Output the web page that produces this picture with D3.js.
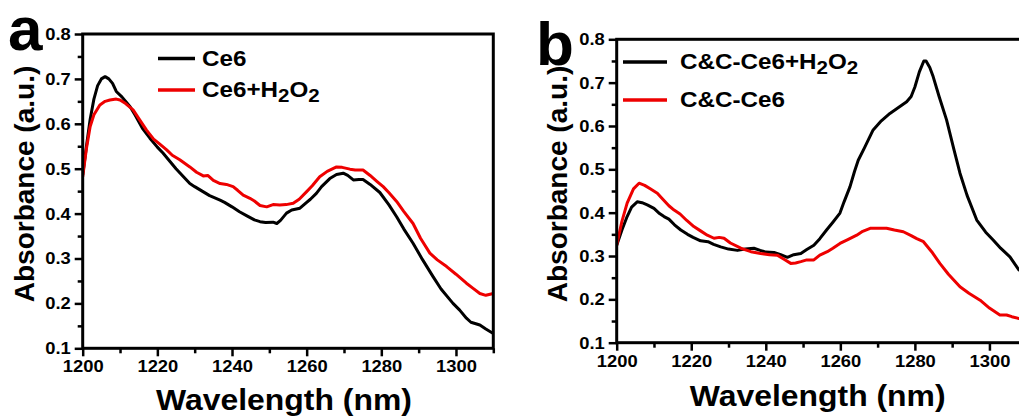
<!DOCTYPE html>
<html>
<head>
<meta charset="utf-8">
<script src="https://cdn.jsdelivr.net/npm/d3@7"></script>
<style>
  body { margin: 0; background: #fff; }
  svg { display: block; font-family: "Liberation Sans", Arial, sans-serif; font-weight: bold; }
</style>
</head>
<body>
<svg id="chart" width="1019" height="416"></svg>
<script>
// panel a: Ce6 with / without H2O2
const ce6 = [[1200,0.486],[1201,0.55],[1202,0.61],[1203,0.655],[1204,0.685],[1205,0.70],[1206,0.705],[1207,0.70],[1208,0.69],[1209,0.672],[1210.5,0.66],[1212.7,0.638],[1214,0.62],[1216,0.59],[1218,0.568],[1220,0.548],[1221.5,0.535],[1223,0.52],[1225,0.50],[1227,0.482],[1228.7,0.467],[1230,0.46],[1232,0.45],[1234,0.44],[1236.8,0.43],[1238,0.425],[1240,0.415],[1242,0.404],[1244,0.395],[1246,0.386],[1247.5,0.382],[1249,0.38],[1251,0.381],[1252,0.378],[1253,0.385],[1254.6,0.401],[1256,0.408],[1258.2,0.412],[1260,0.425],[1261,0.432],[1262.6,0.445],[1264,0.46],[1266.2,0.478],[1268,0.487],[1269.8,0.49],[1271,0.485],[1272.5,0.475],[1274,0.476],[1275.1,0.476],[1277,0.465],[1279.6,0.447],[1282,0.42],[1284.1,0.393],[1286,0.366],[1288.5,0.334],[1291,0.298],[1293.9,0.259],[1296,0.232],[1299.2,0.2],[1301,0.185],[1302.8,0.167],[1304,0.158],[1306.4,0.152],[1308,0.143],[1310,0.133]];
const ce6H2O2 = [[1200,0.482],[1201,0.545],[1202,0.594],[1203,0.62],[1204.6,0.642],[1206,0.65],[1207.3,0.653],[1209,0.655],[1210,0.653],[1211.5,0.645],[1213.5,0.631],[1215,0.612],[1217.1,0.586],[1219,0.566],[1220.5,0.556],[1222.5,0.542],[1224,0.53],[1226,0.52],[1228.7,0.504],[1230.5,0.492],[1232.3,0.484],[1233.5,0.485],[1235,0.474],[1236.8,0.467],[1238.5,0.465],[1240.3,0.46],[1241.5,0.452],[1243,0.441],[1244.8,0.434],[1246,0.428],[1247.5,0.418],[1249.3,0.415],[1251,0.42],[1252.8,0.419],[1254.5,0.42],[1256.4,0.423],[1258,0.432],[1260,0.449],[1261.5,0.462],[1263.5,0.482],[1265.5,0.494],[1268,0.504],[1269.5,0.503],[1271.6,0.499],[1273,0.497],[1275.1,0.497],[1277,0.485],[1278.8,0.472],[1280.5,0.46],[1282,0.447],[1284.1,0.427],[1286,0.405],[1288.5,0.378],[1290.5,0.345],[1293,0.312],[1295,0.297],[1297.5,0.282],[1300,0.265],[1302.8,0.245],[1304.5,0.234],[1306.4,0.222],[1308,0.218],[1310,0.222]];

// panel b: C&C-Ce6 with / without H2O2
const ccH2O2 = [[1200,0.325],[1201.4,0.36],[1202.8,0.391],[1204,0.413],[1205.5,0.425],[1206.8,0.423],[1208.2,0.418],[1210,0.41],[1211.5,0.398],[1212.7,0.391],[1214,0.385],[1215.5,0.372],[1217.2,0.36],[1219,0.35],[1220.5,0.343],[1222.5,0.335],[1224.5,0.333],[1226,0.327],[1227.9,0.321],[1230,0.316],[1232.4,0.313],[1234.5,0.316],[1236.8,0.318],[1238.5,0.313],[1240,0.309],[1242.2,0.308],[1244,0.303],[1245.8,0.297],[1247.5,0.303],[1249.4,0.306],[1251,0.315],[1252.9,0.325],[1254.5,0.34],[1256.3,0.36],[1258,0.378],[1259.9,0.399],[1261,0.425],[1262.6,0.46],[1263.8,0.495],[1264.8,0.521],[1266.5,0.55],[1268.8,0.591],[1271,0.612],[1273.3,0.629],[1275.5,0.642],[1277.8,0.656],[1279,0.668],[1280,0.69],[1281.2,0.725],[1282.4,0.75],[1283,0.75],[1284,0.735],[1284.9,0.714],[1286.5,0.668],[1288.5,0.614],[1290.5,0.545],[1292.1,0.491],[1294,0.44],[1296.6,0.383],[1299,0.355],[1301,0.337],[1303,0.318],[1305.5,0.298],[1307.9,0.268],[1310,0.255]];
const cc = [[1200,0.325],[1201.4,0.38],[1202.8,0.422],[1204.5,0.455],[1206,0.468],[1207.5,0.463],[1209,0.455],[1210.9,0.445],[1212.5,0.43],[1214,0.416],[1215.4,0.406],[1217,0.397],[1218.8,0.382],[1220.7,0.368],[1222.5,0.358],[1224.3,0.348],[1226.1,0.341],[1227.5,0.343],[1228.8,0.341],[1230.5,0.33],[1233.3,0.318],[1236,0.31],[1238.6,0.306],[1241,0.303],[1243.1,0.302],[1245,0.292],[1246.7,0.283],[1248,0.284],[1249.4,0.287],[1251,0.291],[1252.9,0.291],[1254.5,0.302],[1256.5,0.31],[1258,0.318],[1259.9,0.329],[1262,0.338],[1264.4,0.348],[1266,0.357],[1268,0.364],[1270,0.364],[1272.4,0.364],[1274.5,0.36],[1276.9,0.356],[1279,0.347],[1280.5,0.34],[1282.3,0.333],[1284.5,0.31],[1286.7,0.283],[1289,0.258],[1292.1,0.229],[1294.5,0.214],[1297.5,0.198],[1300,0.18],[1302.8,0.164],[1304.6,0.164],[1306,0.16],[1307.9,0.156],[1310,0.153]];

const xMajor = [1200, 1220, 1240, 1260, 1280, 1300];
const xMinor = [1210, 1230, 1250, 1270, 1290, 1310];
const yMajor = [0.1, 0.2, 0.3, 0.4, 0.5, 0.6, 0.7, 0.8];
const yMinor = [0.15, 0.25, 0.35, 0.45, 0.55, 0.65, 0.75];

const svg = d3.select("#chart");

// the source figure is a bit wider than tall: widen horizontal texts to match
const widen = (sel, k) =>
  sel.each(function () {
    const w = this.getComputedTextLength();
    d3.select(this).attr("textLength", w * k).attr("lengthAdjust", "spacingAndGlyphs");
  });

function panel({ letter, box, letterPos, legendBox, series }) {
  const x = d3.scaleLinear([1200, 1310], [box.x0, box.x1]);
  const y = d3.scaleLinear([0.1, 0.8], [box.y1, box.y0]);
  const g = svg.append("g");

  // minor ticks
  g.append("g").attr("transform", `translate(0,${box.y1})`)
    .call(d3.axisBottom(x).tickValues(xMinor).tickSize(5).tickFormat(""))
    .call((s) => s.select(".domain").remove());
  g.append("g").attr("transform", `translate(${box.x0},0)`)
    .call(d3.axisLeft(y).tickValues(yMinor).tickSize(5).tickFormat(""))
    .call((s) => s.select(".domain").remove());

  // major ticks
  g.append("g").attr("transform", `translate(0,${box.y1})`)
    .call(d3.axisBottom(x).tickValues(xMajor).tickSize(8).tickPadding(4).tickFormat(d3.format("d")))
    .call((s) => s.select(".domain").remove());
  g.append("g").attr("transform", `translate(${box.x0},0)`)
    .call(d3.axisLeft(y).tickValues(yMajor).tickSize(8).tickPadding(4).tickFormat(d3.format(".1f")))
    .call((s) => s.select(".domain").remove());
  g.selectAll(".tick line").attr("stroke", "#000").attr("stroke-width", 2.5);
  g.selectAll(".tick text").attr("font-size", 17).attr("font-weight", "bold")
    .attr("font-family", "Liberation Sans, Arial, sans-serif").attr("fill", "#000")
    .call(widen, 1.08);

  // curves
  const clipId = "clip-" + letter;
  g.append("clipPath").attr("id", clipId).append("rect")
    .attr("x", box.x0).attr("y", box.y0).attr("width", box.x1 - box.x0).attr("height", box.y1 - box.y0);
  const line = d3.line().x((d) => x(d[0])).y((d) => y(d[1]));
  g.append("g").attr("clip-path", `url(#${clipId})`)
    .selectAll("path.curve").data(series).join("path")
    .attr("class", "curve")
    .attr("d", (d) => line(d.values))
    .attr("fill", "none")
    .attr("stroke", (d) => d.color)
    .attr("stroke-width", 3)
    .attr("stroke-linejoin", "round");

  // frame
  g.append("rect").attr("x", box.x0).attr("y", box.y0)
    .attr("width", box.x1 - box.x0).attr("height", box.y1 - box.y0)
    .attr("fill", "none").attr("stroke", "#000").attr("stroke-width", 3);

  // axis titles
  g.append("text").attr("x", (box.x0 + box.x1) / 2 - 4).attr("y", box.titleY)
    .attr("text-anchor", "middle").attr("font-size", 29).text("Wavelength (nm)")
    .call(widen, 1.1);
  g.append("text").attr("transform", `translate(${box.ytitleX},${box.ytitleY}) rotate(-90)`)
    .attr("text-anchor", "middle").attr("font-size", 28).text("Absorbance (a.u.)");

  // panel letter
  g.append("text").attr("x", letterPos[0]).attr("y", letterPos[1])
    .attr("font-size", 62).text(letter);

  // legend
  const lg = g.selectAll("g.leg").data(series).join("g").attr("class", "leg")
    .attr("transform", (d, i) => `translate(${legendBox.x},${legendBox.y + i * legendBox.dy})`);
  lg.append("line").attr("x1", 0).attr("x2", legendBox.len).attr("y1", 0).attr("y2", 0)
    .attr("stroke", (d) => d.color).attr("stroke-width", 3.5);
  lg.append("text").attr("x", legendBox.len + legendBox.gap).attr("y", 7)
    .attr("font-size", legendBox.fs)
    .each(function (d) {
      const el = d3.select(this);
      let low = false;
      d.label.forEach(([s, sub]) => {
        const dy = sub && !low ? 5 : !sub && low ? -5 : 0;
        low = !!sub;
        el.append("tspan").attr("dy", dy).attr("font-size", sub ? legendBox.fs * 0.85 : legendBox.fs).text(s);
      });
    })
    .call(widen, 1.1);
}

panel({
  letter: "a",
  box: { x0: 82.7, x1: 493.3, y0: 34, y1: 348.3, titleY: 410, ytitleX: 34, ytitleY: 184 },
  letterPos: [8, 50],
  legendBox: { x: 158, y: 58.5, dy: 31.5, len: 37, gap: 7, fs: 22 },
  series: [
    { values: ce6, color: "#000", label: [["Ce6"]] },
    { values: ce6H2O2, color: "#ee0000", label: [["Ce6+H"], ["2", true], ["O"], ["2", true]] },
  ],
});

panel({
  letter: "b",
  box: { x0: 616.7, x1: 1026.7, y0: 39.3, y1: 342.7, titleY: 406, ytitleX: 567, ytitleY: 184 },
  letterPos: [536, 65],
  legendBox: { x: 623, y: 62, dy: 38, len: 44, gap: 13, fs: 22 },
  series: [
    { values: ccH2O2, color: "#000", label: [["C&C-Ce6+H"], ["2", true], ["O"], ["2", true]] },
    { values: cc, color: "#ee0000", label: [["C&C-Ce6"]] },
  ],
});
</script>
</body>
</html>
